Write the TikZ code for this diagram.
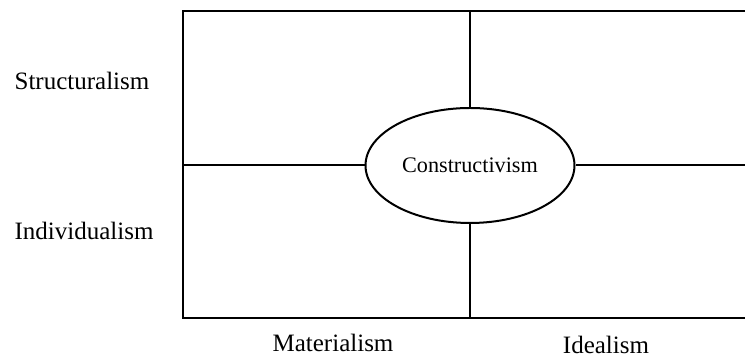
\documentclass[tikz,border=0pt]{standalone}
\usepackage{fontspec}
\setmainfont{Liberation Serif}
\usetikzlibrary{shapes.geometric}

\begin{document}
\begin{tikzpicture}[
        x=0.5pt, y=-0.5pt,
        every node/.style={font=\fontsize{12.5}{15}\selectfont, inner sep=1pt},
        frame/.style={line width=1pt},
        hub/.style={ellipse, draw, line width=1pt, inner sep=0pt,
                    minimum width=104.5pt, minimum height=57.5pt,
                    font=\fontsize{11.1}{13}\selectfont},
      ]
      \useasboundingbox (0,0) rectangle (745,356);

      % Rahmen
      \coordinate (tl) at (183,11);
      \coordinate (bl) at (183,318);
      \coordinate (tr) at (745,11);
      \coordinate (br) at (745,318);
      \draw[frame] (tr) -- (tl) -- (bl) -- (br);

      % Mitte
      \node[hub] (core) at (470,165.5) {Constructivism};
      \draw[frame] (core.north) -- (core.north |- tl);
      \draw[frame] (core.south) -- (core.south |- bl);
      \draw[frame] (core.west) -- (core.west -| bl);
      \draw[frame] (core.east) -- (core.east -| br);

      % Achsen
      \node (struct) at (82,81) {Structuralism};
      \node (indiv) at (84,231) {Individualism};
      \node (mater) at (333,343) {Materialism};
      \node (ideal) at (606,344.5) {Idealism};
    \end{tikzpicture}
\end{document}
